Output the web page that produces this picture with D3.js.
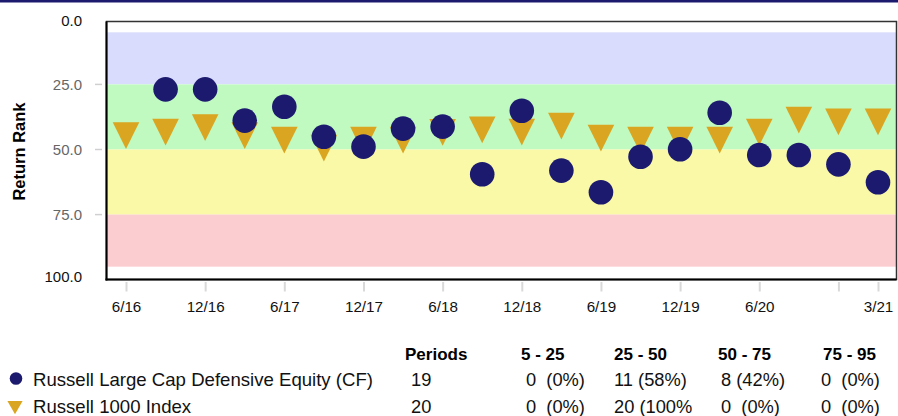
<!DOCTYPE html>
<html>
<head>
<meta charset="utf-8">
<script src="https://cdn.jsdelivr.net/npm/d3@7"></script>
<style>
  html, body { margin: 0; padding: 0; background: #fff; }
  svg { display: block; font-family: "Liberation Sans", Arial, Helvetica, sans-serif; }
</style>
</head>
<body>
<svg id="chart" width="898" height="416"></svg>
<script>
// ---- data ----
const quarters = ["6/16","9/16","12/16","3/17","6/17","9/17","12/17","3/18","6/18","9/18","12/18","3/19","6/19","9/19","12/19","3/20","6/20","9/20","12/20","3/21"];
const fundQuarters = quarters.slice(1);
const fundRanks = [26.9, 26.9, 38.9, 33.6, 45.1, 48.9, 42.0, 41.2, 59.5, 35.1, 58.1, 66.4, 52.8, 49.9, 35.9, 52.1, 52.1, 55.7, 62.6];
const indexRanks = [44.7, 43.3, 41.6, 44.7, 46.4, 49.5, 46.4, 46.4, 43.4, 42.5, 43.3, 41.0, 45.6, 46.4, 46.4, 46.4, 43.3, 38.7, 39.4, 39.4];
const xTickQuarters = ["6/16","12/16","6/17","12/17","6/18","12/18","6/19","12/19","6/20","12/20","3/21"];
const xTickLabels = ["6/16","12/16","6/17","12/17","6/18","12/18","6/19","12/19","6/20","","3/21"];
const yTickValues = [0, 25, 50, 75, 100];
const yTickLabels = ["0.0", "25.0", "50.0", "75.0", "100.0"];
const bandLows = [5, 25, 50, 75];
const bandHighs = [25, 50, 75, 95];
const bandColors = ["#d9dcfc", "#c0fac0", "#f9f9a8", "#fccdd0"];
const seriesNames = ["Russell Large Cap Defensive Equity (CF)", "Russell 1000 Index"];
const tableHeaders = ["Periods", "5 - 25", "25 - 50", "50 - 75", "75 - 95"];
const periods = ["19", "20"];
const fundCells = ["0  (0%)", "11 (58%)", "8 (42%)", "0  (0%)"];
const indexCells = ["0  (0%)", "20 (100%)", "0  (0%)", "0  (0%)"];

// ---- layout ----
const navy = "#1c1a6e", gold = "#daa520";
const svg = d3.select("#chart");
const plot = { left: 106.5, right: 896.5, top: 21.5, bottom: 279.5 };

const y = d3.scaleLinear().domain([0, 100]).range([19.3, 279.7]);
const x = d3.scalePoint().domain(quarters).range([126, 878]);

// top bar
svg.append("rect").attr("x", 0).attr("y", 0).attr("width", 898).attr("height", 2.5).attr("fill", navy);

// bands
svg.append("g").selectAll("rect").data(bandLows).join("rect")
  .attr("x", plot.left).attr("width", plot.right - plot.left)
  .attr("y", d => y(d))
  .attr("height", (d, i) => y(bandHighs[i]) - y(d))
  .attr("fill", (d, i) => bandColors[i]);

// frame
svg.append("rect").attr("x", plot.left).attr("y", plot.top)
  .attr("width", plot.right - plot.left).attr("height", plot.bottom - plot.top)
  .attr("fill", "none").attr("stroke", "#333").attr("stroke-width", 1.5);
svg.append("line").attr("x1", plot.left).attr("x2", plot.left).attr("y1", plot.top).attr("y2", plot.bottom + 1)
  .attr("stroke", "#000").attr("stroke-width", 2);
svg.append("line").attr("x1", plot.left - 1).attr("x2", plot.right).attr("y1", plot.bottom).attr("y2", plot.bottom)
  .attr("stroke", "#000").attr("stroke-width", 2);

// y axis
const yAxis = d3.axisLeft(y).tickValues(yTickValues).tickSize(0).tickPadding(0)
  .tickFormat((d, i) => yTickLabels[i]);
const gy = svg.append("g").attr("transform", "translate(82,0)").call(yAxis);
gy.select(".domain").remove();
gy.selectAll(".tick text")
  .attr("font-size", 15).attr("font-family", "Liberation Sans, Arial, sans-serif")
  .attr("fill", d => (d === 0 || d === 100) ? "#111" : "#666")
  .attr("dy", d => d === 0 ? "0.42em" : d === 100 ? "0.1em" : "0.32em");
svg.append("g").selectAll("line").data(yTickValues.filter(v => v > 0 && v < 100)).join("line")
  .attr("x1", 95).attr("x2", 102).attr("y1", d => y(d)).attr("y2", d => y(d))
  .attr("stroke", "#d0d0d0").attr("stroke-width", 1.5);

// y title
svg.append("text").attr("transform", "translate(25,151.5) rotate(-90)")
  .attr("text-anchor", "middle").attr("font-weight", "bold").attr("font-size", 16.5)
  .attr("fill", "#000").text("Return Rank");

// x axis
const xAxis = d3.axisBottom(x).tickValues(xTickQuarters).tickSize(9.5).tickPadding(0)
  .tickFormat(d => xTickLabels[xTickQuarters.indexOf(d)]);
const gx = svg.append("g").attr("transform", "translate(0,282)").call(xAxis);
gx.select(".domain").remove();
gx.selectAll(".tick line").attr("stroke", "#d9d9d9").attr("stroke-width", 2);
gx.selectAll(".tick text").attr("font-size", 15.2).attr("font-family", "Liberation Sans, Arial, sans-serif")
  .attr("fill", "#111").attr("y", 29.5).attr("dy", 0);

// triangles (index)
const triW = 13.3, triH = 13.4;
const triPath = (cx, cy, w, h) => `M${cx - w},${cy - h}L${cx + w},${cy - h}L${cx},${cy + h}Z`;
svg.append("g").selectAll("path").data(indexRanks).join("path")
  .attr("d", (d, i) => triPath(x(quarters[i]), y(d), triW, triH))
  .attr("fill", gold);

// circles (fund)
svg.append("g").selectAll("circle").data(fundRanks).join("circle")
  .attr("cx", (d, i) => x(fundQuarters[i])).attr("cy", d => y(d)).attr("r", 12.3)
  .attr("fill", navy);

// legend
const legendRows = [386, 413.2];
svg.append("circle").attr("cx", 16).attr("cy", 378.5).attr("r", 6.3).attr("fill", navy);
svg.append("path").attr("d", triPath(15, 407.6, 7.6, 6.7)).attr("fill", gold);
svg.append("g").selectAll("text").data(seriesNames).join("text")
  .attr("x", 33).attr("y", (d, i) => legendRows[i])
  .attr("font-size", 18.6).attr("fill", "#111").text(d => d);

// table
const colX = [405, 521, 614, 718, 823];
const cellX = [526, 614, 721, 821];
const clipRight = [610, 692, 791, 898];
const defs = svg.append("defs");
clipRight.forEach((r, i) => {
  defs.append("clipPath").attr("id", "clip" + i).append("rect")
    .attr("x", cellX[i] - 10).attr("y", 360).attr("width", r - cellX[i] + 10).attr("height", 60);
});
svg.append("g").selectAll("text").data(tableHeaders).join("text")
  .attr("x", (d, i) => colX[i]).attr("y", 360)
  .attr("font-size", 17).attr("font-weight", "bold").attr("fill", "#000").text(d => d);
svg.append("g").selectAll("text").data(periods).join("text")
  .attr("x", 411).attr("y", (d, i) => legendRows[i])
  .attr("font-size", 18.3).attr("fill", "#111").text(d => d);
[fundCells, indexCells].forEach((row, r) => {
  svg.append("g").selectAll("text").data(row).join("text")
    .attr("clip-path", (d, i) => `url(#clip${i})`)
    .attr("x", (d, i) => cellX[i]).attr("y", legendRows[r])
    .attr("font-size", 18.3).attr("fill", "#111")
    .style("white-space", "pre").text(d => d);
});
</script>
</body>
</html>
